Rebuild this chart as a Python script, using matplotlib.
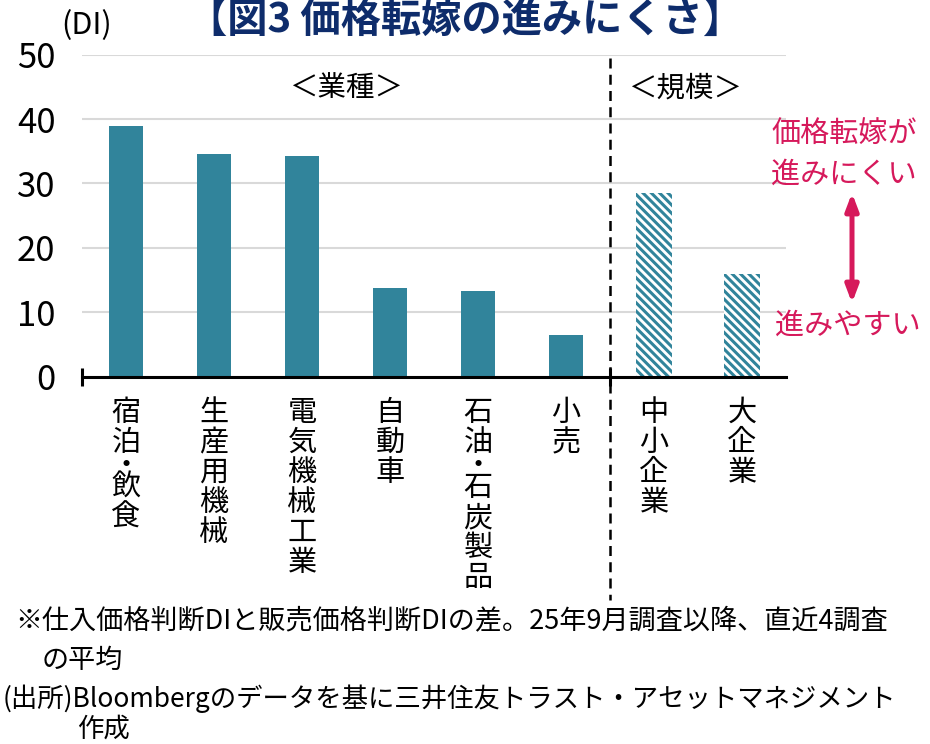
import matplotlib
matplotlib.use("Agg")
import matplotlib.pyplot as plt
from matplotlib.patches import FancyArrowPatch
from matplotlib.lines import Line2D
import matplotlib.transforms as mtransforms

plt.rcParams['font.family'] = ['Noto Sans CJK JP', 'DejaVu Sans']
plt.rcParams['hatch.linewidth'] = 2.2

# ---- data ----
categories = ['宿泊・飲食', '生産用機械', '電気機械工業', '自動車', '石油・石炭製品', '小売', '中小企業', '大企業']
values = [39.0, 34.6, 34.3, 13.7, 13.3, 6.5, 28.5, 16.0]
hatched = [False, False, False, False, False, False, True, True]
yticks = [0, 10, 20, 30, 40, 50]
title = '【図3 価格転嫁の進みにくさ】'
group_labels = ['＜業種＞', '＜規模＞']
note_lines = ['※仕入価格判断DIと販売価格判断DIの差。25年9月調査以降、直近4調査',
              'の平均',
              '(出所)Bloombergのデータを基に三井住友トラスト・アセットマネジメント',
              '作成']

TEAL = '#31849B'
NAVY = '#0E2C6B'
MAGENTA = '#D6195B'

W, H = 930, 744
fig = plt.figure(figsize=(W / 100, H / 100), dpi=100)

ax_left, ax_right = 82, 786
ax_y0, ax_ytop = 376.7, 54.7
ax = fig.add_axes([ax_left / W, 1 - ax_y0 / H, (ax_right - ax_left) / W, (ax_y0 - ax_ytop) / H])

x = list(range(len(categories)))
for xi, v, h in zip(x, values, hatched):
    if h:
        ax.bar(xi, v, width=0.40, facecolor='white', edgecolor=TEAL, hatch='\\\\\\\\', linewidth=0, zorder=3)
    else:
        ax.bar(xi, v, width=0.39, color=TEAL, linewidth=0, zorder=3)

ax.set_xlim(-0.5, len(categories) - 0.5)
ax.set_ylim(0, 50)
ax.set_yticks(yticks)
ax.set_yticklabels([str(t) for t in yticks], fontsize=25)
ax.tick_params(axis='y', length=0, pad=19)
ax.yaxis.grid(True, color='#D9D9D9', linewidth=1.5, zorder=0)
ax.set_axisbelow(True)
for s in ['left', 'top', 'right']:
    ax.spines[s].set_visible(False)
ax.spines['bottom'].set_linewidth(2.2)
ax.spines['bottom'].set_color('black')
ax.spines['bottom'].set_zorder(4)
ax.set_xticks([-0.5, 5.5])
ax.set_xticklabels(['', ''])
ax.tick_params(axis='x', direction='inout', length=13.5, width=2.2, color='black')

# category labels, stacked vertically
def py_to_axes(py):
    return (ax_y0 - py) / (ax_y0 - ax_ytop)

trans = mtransforms.blended_transform_factory(ax.transData, ax.transAxes)
pitch = 30.0
for xi, lab in zip(x, categories):
    top = 398.0
    for ch in lab:
        adv = pitch / 2 if ch == '・' else pitch
        cy = top + adv / 2
        ax.text(xi, py_to_axes(cy), ch, transform=trans, ha='center', va='center',
                fontsize=21, clip_on=False)
        top += adv

# separator dashed line
sep = Line2D([5.5, 5.5], [py_to_axes(58), py_to_axes(600)], transform=trans, color='black',
             linewidth=1.8, linestyle=(0, (4, 2.5)), clip_on=False, zorder=5)
ax.add_line(sep)

# group labels
ax.text(2.5, 44.8, group_labels[0], ha='center', va='center', fontsize=20.5)
ax.text(6.35, 44.8, group_labels[1], ha='center', va='center', fontsize=20.5)

# title and unit
fig.text(0.5, 1 - 20 / H, title, ha='center', va='center', fontsize=29, fontweight='bold', color=NAVY)
fig.text(87 / W, 1 - 26 / H, '(DI)', ha='center', va='center', fontsize=22)

# right annotation
fig.text(844 / W, 1 - 133.5 / H, '価格転嫁が', ha='center', va='center', fontsize=21, color=MAGENTA)
fig.text(844 / W, 1 - 175 / H, '進みにくい', ha='center', va='center', fontsize=21, color=MAGENTA)
fig.text(848 / W, 1 - 326 / H, '進みやすい', ha='center', va='center', fontsize=21, color=MAGENTA)
arrow = FancyArrowPatch((852 / W, 1 - 193 / H), (852 / W, 1 - 303 / H), transform=fig.transFigure,
                        arrowstyle='<|-|>,head_length=1.0,head_width=0.38', mutation_scale=10,
                        color=MAGENTA, linewidth=3.6, shrinkA=0, shrinkB=0)
fig.patches.append(arrow)

# notes
note_pos = [(15, 621), (41.5, 660), (3, 699), (77, 729)]
note_size = [19.5, 19.5, 19, 19]
for (nx, ny), line, fs in zip(note_pos, note_lines, note_size):
    fig.text(nx / W, 1 - ny / H, line, ha='left', va='center', fontsize=fs)

fig.savefig('out.png', dpi=100)
